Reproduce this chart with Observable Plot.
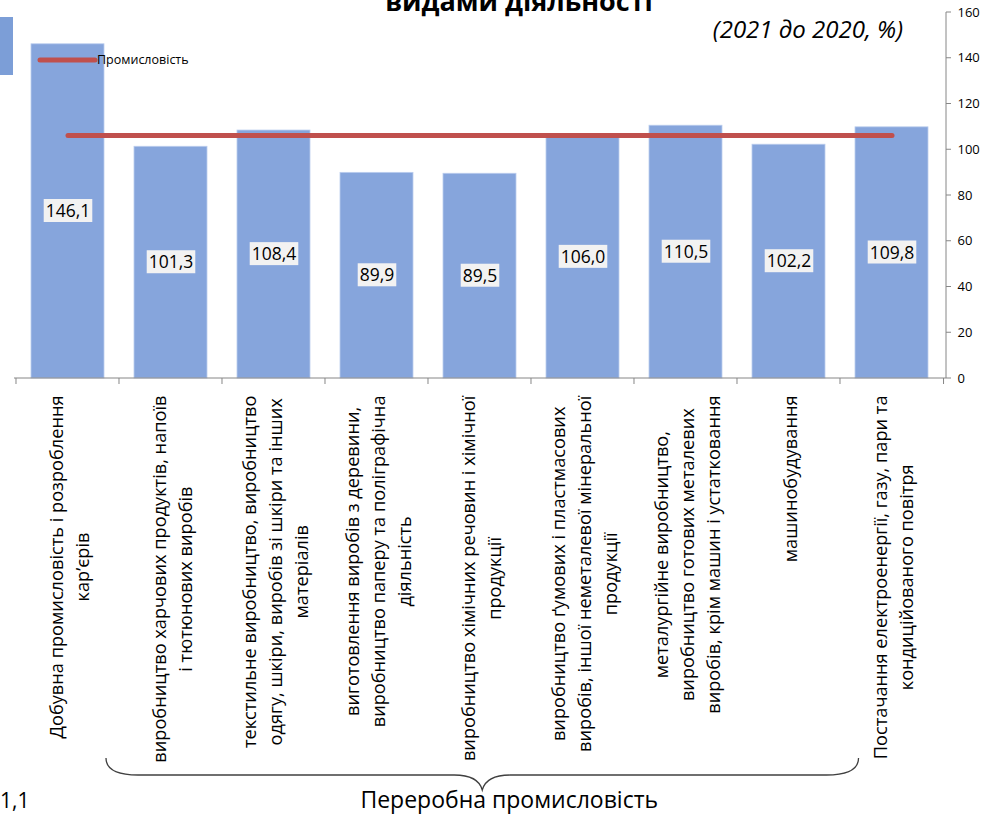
<!DOCTYPE html>
<html><head><meta charset="utf-8">
<script src="https://cdn.jsdelivr.net/npm/d3@7"></script>
<script src="https://cdn.jsdelivr.net/npm/@observablehq/plot@0.6"></script>
<style>body{margin:0;background:#fff} svg{display:block}</style>
</head><body><div id="chart"></div>
<script>
const categories = [
  "Добувна промисловість і розроблення\nкар’єрів",
  "виробництво харчових продуктів, напоїв\nі тютюнових виробів",
  "текстильне виробництво, виробництво\nодягу, шкіри, виробів зі шкіри та інших\nматеріалів",
  "виготовлення виробів з деревини,\nвиробництво паперу та поліграфічна\nдіяльність",
  "виробництво хімічних речовин і хімічної\nпродукції",
  "виробництво ґумових і пластмасових\nвиробів, іншої неметалевої мінеральної\nпродукції",
  "металургійне виробництво,\nвиробництво готових металевих\nвиробів, крім машин і устатковання",
  "машинобудування",
  "Постачання електроенергії, газу, пари та\nкондиційованого повітря"
];
const values = [146.1, 101.3, 108.4, 89.9, 89.5, 106.0, 110.5, 102.2, 109.8];
const industryValue = 106.2;
const industryName = "Промисловість";
const yTicks = [0, 20, 40, 60, 80, 100, 120, 140, 160];
const titleText = "видами діяльності";
const subtitleText = "(2021 до 2020, %)";
const groupLabel = "Переробна промисловість";
const strayLabel = "1,1";

const data = categories.map((c, i) => ({cat: c, value: values[i]}));
const fmt = v => v.toFixed(1).replace(".", ",");
const PAD = 0.29;
const FONT = "'Open Sans', sans-serif";
const GRAY = "#868686";

function decor(index, scales, vals, dim) {
  const {width, height, marginLeft, marginRight} = dim;
  const g = d3.create("svg:g").attr("font-family", FONT);
  const x0 = marginLeft, x1 = width - marginRight;
  const yb = scales.y(0), yt = scales.y(yTicks[yTicks.length - 1]);
  const step = (x1 - x0) / categories.length;
  const bw = step * (1 - PAD);
  // x axis
  g.append("line").attr("x1", x0).attr("x2", x1).attr("y1", yb).attr("y2", yb).attr("stroke", GRAY);
  const bounds = categories.map(c => scales.x(c) - step * PAD / 2).concat([scales.x(categories[categories.length - 1]) + bw + step * PAD / 2]);
  bounds.forEach(bx => g.append("line").attr("x1", bx).attr("x2", bx).attr("y1", yb).attr("y2", yb + 6).attr("stroke", GRAY));
  // y axis
  g.append("line").attr("x1", x1).attr("x2", x1).attr("y1", yt).attr("y2", yb).attr("stroke", GRAY);
  yTicks.forEach(t => g.append("line").attr("x1", x1).attr("x2", x1 + 5).attr("y1", scales.y(t)).attr("y2", scales.y(t)).attr("stroke", GRAY));
  // brace under manufacturing group
  const L = scales.x(categories[1]) - step * PAD / 2 - 13;
  const R = scales.x(categories[7]) + bw + step * PAD / 2 + 18;
  const C = (L + R) / 2;
  const ya = height - 57, ym = height - 40, yp = height - 25;
  const p = d3.path();
  p.moveTo(L, ya);
  p.quadraticCurveTo(L, ym, L + 32, ym);
  p.lineTo(C - 28, ym);
  p.quadraticCurveTo(C - 4, ym, C, yp);
  p.quadraticCurveTo(C + 4, ym, C + 28, ym);
  p.lineTo(R - 32, ym);
  p.quadraticCurveTo(R, ym, R, ya);
  g.append("path").attr("d", p.toString()).attr("fill", "none").attr("stroke", "#404040").attr("stroke-width", 1.3);
  g.append("text").attr("x", C + 27).attr("y", height - 7).attr("text-anchor", "middle")
    .attr("font-size", 23).text(groupLabel);
  g.append("text").attr("x", 0).attr("y", height - 7).attr("text-anchor", "start").attr("font-size", 21).text(strayLabel);
  // title / subtitle
  g.append("text").attr("x", 519).attr("y", 11).attr("text-anchor", "middle")
    .attr("font-size", 27).attr("font-weight", "bold").text(titleText);
  g.append("text").attr("x", 903).attr("y", 38).attr("text-anchor", "end")
    .attr("font-size", 24).attr("font-style", "italic").text(subtitleText);
  // legend
  g.append("rect").attr("x", 0).attr("y", 17).attr("width", 13).attr("height", 58).attr("fill", "#7C9ED7");
  g.append("line").attr("x1", 40).attr("x2", 95).attr("y1", 60).attr("y2", 60)
    .attr("stroke", "#C0504D").attr("stroke-width", 5).attr("stroke-linecap", "round");
  g.append("text").attr("x", 97).attr("y", 60).attr("dy", "0.35em").attr("text-anchor", "start")
    .attr("font-size", 12.5).text(industryName);
  return g.node();
}

const chart = Plot.plot({
  width: 998, height: 815,
  marginLeft: 14, marginRight: 52, marginTop: 12, marginBottom: 437,
  style: {fontFamily: FONT, background: "white", overflow: "visible", color: "black"},
  x: {type: "band", domain: categories, paddingInner: PAD, paddingOuter: PAD / 2, axis: null},
  y: {domain: [0, 160], axis: null},
  marks: [
    Plot.barY(data, {x: "cat", y: "value", fill: "#86A5DC", stroke: "#BBCDEE", strokeWidth: 0.8}),
    decor,
    Plot.lineY(data, {x: "cat", y: () => industryValue, stroke: "#C0504D", strokeWidth: 5, strokeLinecap: "round"}),
    Plot.text(data, {x: "cat", y: d => d.value / 2, text: d => fmt(d.value), fontSize: 17.5, fill: "black", className: "vallab"}),
    Plot.axisY({anchor: "right", ticks: yTicks, tickSize: 0, tickPadding: 11, fontSize: 13, label: null, tickFormat: d => String(d)}),
    Plot.text(data, {x: "cat", text: "cat", frameAnchor: "bottom", rotate: -90, textAnchor: "middle",
      lineAnchor: "middle", lineHeight: 1.42, fontSize: 18.2, fill: "black", className: "catlab"})
  ]
});
document.getElementById("chart").append(chart);

// position category labels: block top 17px below axis, lines centered
const TOP = 395;
chart.querySelectorAll(".catlab text").forEach(t => {
  const tr = t.getAttribute("transform") || "";
  const m = tr.match(/translate\(([-\d.e]+)[ ,]+([-\d.e]+)\)/);
  if (!m) return;
  const w = t.getBBox().width;
  t.setAttribute("transform", `translate(${m[1]},${TOP + w / 2}) rotate(-90)`);
});
// background boxes behind value labels
chart.querySelectorAll(".vallab text").forEach(t => {
  const b = t.getBBox();
  const r = document.createElementNS("http://www.w3.org/2000/svg", "rect");
  r.setAttribute("x", b.x - 2); r.setAttribute("y", b.y + 1);
  r.setAttribute("width", b.width + 4); r.setAttribute("height", b.height - 1);
  r.setAttribute("fill", "#F2F2F2");
  const tr = t.getAttribute("transform"); if (tr) r.setAttribute("transform", tr);
  t.parentNode.insertBefore(r, t);
});
</script>
</body></html>
